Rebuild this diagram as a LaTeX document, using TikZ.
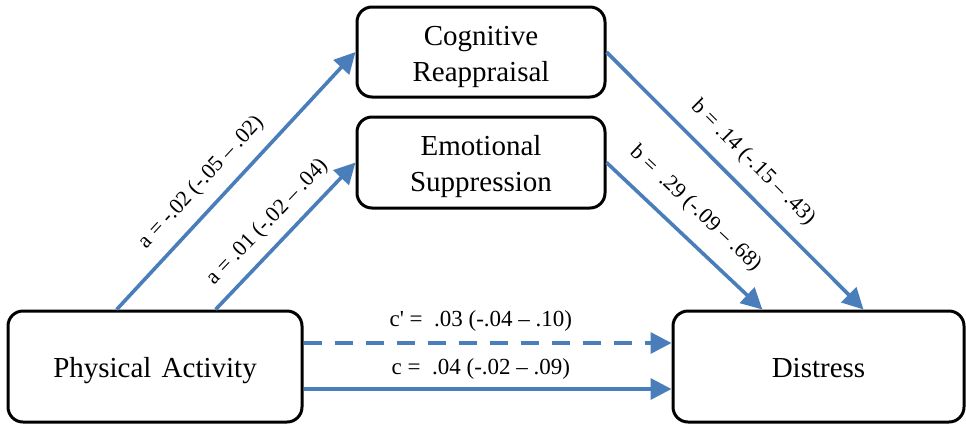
\documentclass[tikz,border=0pt]{standalone}
\usepackage{fontspec}
\setmainfont{Liberation Serif}
\newfontfamily\nomapserif{Liberation Serif}
\usetikzlibrary{arrows.meta,calc}
\definecolor{arrowblue}{RGB}{74,126,187}
\newcommand{\boxtext}[1]{\raisebox{-4pt}[\height][\depth]{\begin{tabular}{@{}c@{}}#1\end{tabular}}}
\begin{document}
\begin{tikzpicture}[x=1pt,y=-1pt,
  box/.style={draw=black, line width=3pt, rounded corners=15pt, fill=white,
    inner sep=0pt, font=\fontsize{29}{36}\selectfont},
  link/.style={draw=arrowblue, line width=3.6pt,
    -{Triangle[length=21pt,width=21pt]}},
  dashlink/.style={link, dash pattern=on 18pt off 13pt},
  lab/.style={font=\fontsize{22}{24}\selectfont, inner sep=0pt, sloped},
  hlab/.style={lab, font=\fontsize{23}{25}\selectfont}
]
\useasboundingbox (0,0) rectangle (966,424);

\node[box, minimum width=294pt, minimum height=111pt] (PA) at (155,366.5) {\boxtext{Physical\hspace{0.35em}Activity}};
\node[box, minimum width=291pt, minimum height=111pt] (D) at (818.5,366.5) {\boxtext{Distress}};
\node[box, minimum width=248pt, minimum height=90pt] (CR) at (481,52) {\boxtext{Cognitive\\Reappraisal}};
\node[box, minimum width=248pt, minimum height=91pt] (ES) at (481,162.5) {\boxtext{Emotional\\Suppression}};

\coordinate (a1s) at ($(PA.north west)!0.371!(PA.north east)$);
\coordinate (a2s) at ($(PA.north west)!0.704!(PA.north east)$);
\coordinate (b1e) at ($(D.north west)!0.653!(D.north east)$);
\coordinate (b2e) at ($(D.north west)!0.309!(D.north east)$);

\draw[link] (a1s) -- (CR.west)
  node[lab, pos=0.43, above=12.5pt] {a = -.02 (-.05 \textendash\ .02)};
\draw[link] (a2s) -- (ES.west)
  node[lab, pos=0.49, above=10.5pt] {a = .01 (-.02 \textendash\ .04)};
\draw[link] (CR.east) -- (b1e)
  node[lab, pos=0.5, above=13.5pt] {b = .14 (-.15 \textendash\ .43)};
\draw[link] (ES.east) -- (b2e)
  node[lab, pos=0.45, above=15.5pt] {b = ~.29 (-.09 \textendash\ .68)};

\draw[dashlink] ([yshift=23.5pt]PA.east) -- ([yshift=23.5pt]D.west)
  node[hlab, pos=0.482, above=10pt] {c{\nomapserif '} = ~.03 (-.04 \textendash\ .10)};
\draw[link] ([yshift=-22.5pt]PA.east) -- ([yshift=-22.5pt]D.west)
  node[hlab, pos=0.482, above=8pt] {c = ~.04 (-.02 \textendash\ .09)};
\end{tikzpicture}
\end{document}
